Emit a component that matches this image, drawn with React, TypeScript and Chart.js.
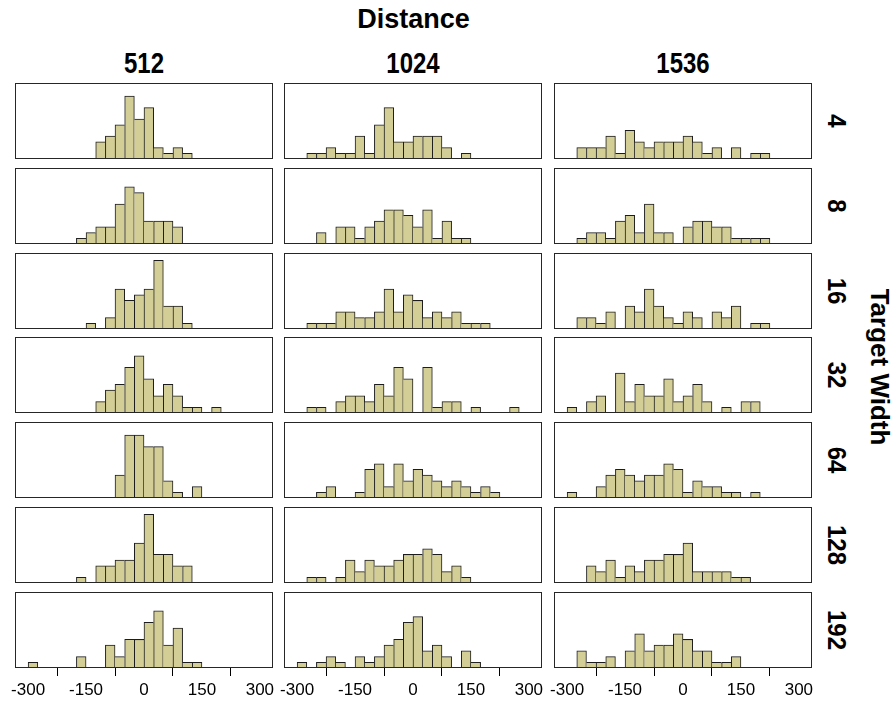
import React, { useEffect, useRef } from "react";
import { Chart, registerables } from "chart.js";

Chart.register(...registerables);

// ---- data ----
const distances = ["512", "1024", "1536"];
const targetWidths = ["4", "8", "16", "32", "64", "128", "192"];
const tickValues = [-300, -150, 0, 150, 300];
const BIN_START = -300;
const BIN_WIDTH = 25;
const Y_MAX = 13.3;

// counts per 25-unit bin, bins from -300 to +300 (24 bins)
const w4_d512 = [0, 0, 0, 0, 0, 0, 0, 3, 4, 6, 11, 7, 9, 2, 1, 2, 1, 0, 0, 0, 0, 0, 0, 0];
const w4_d1024 = [0, 1, 1, 2, 1, 1, 4, 1, 6, 9, 3, 3, 4, 4, 4, 2, 0, 1, 0, 0, 0, 0, 0, 0];
const w4_d1536 = [0, 2, 2, 2, 4, 1, 5, 3, 2, 3, 3, 3, 4, 3, 1, 2, 0, 2, 0, 1, 1, 0, 0, 0];

const w8_d512 = [0, 0, 0, 0, 0, 1, 2, 3, 3, 7, 10, 9, 4, 4, 4, 3, 0, 0, 0, 0, 0, 0, 0, 0];
const w8_d1024 = [0, 0, 2, 0, 3, 3, 1, 3, 4, 6, 6, 5, 3, 6, 1, 4, 1, 1, 0, 0, 0, 0, 0, 0];
const w8_d1536 = [0, 1, 2, 2, 1, 4, 5, 2, 7, 2, 2, 0, 3, 4, 4, 3, 3, 1, 1, 1, 1, 0, 0, 0];

const w16_d512 = [0, 0, 0, 0, 0, 0, 1, 0, 2, 7, 5, 6, 7, 12, 4, 4, 1, 0, 0, 0, 0, 0, 0, 0];
const w16_d1024 = [0, 1, 1, 1, 3, 3, 2, 2, 3, 7, 3, 6, 5, 2, 3, 2, 3, 1, 1, 1, 0, 0, 0, 0];
const w16_d1536 = [0, 2, 2, 1, 3, 0, 4, 3, 7, 4, 2, 1, 3, 2, 0, 3, 2, 4, 0, 1, 1, 0, 0, 0];

const w32_d512 = [0, 0, 0, 0, 0, 0, 0, 2, 4, 5, 8, 10, 6, 3, 5, 3, 1, 1, 0, 1, 0, 0, 0, 0];
const w32_d1024 = [0, 1, 1, 0, 2, 3, 3, 2, 5, 3, 8, 6, 0, 8, 1, 2, 2, 0, 1, 0, 0, 0, 1, 0];
const w32_d1536 = [1, 0, 2, 3, 0, 7, 2, 5, 3, 3, 6, 2, 3, 5, 2, 0, 1, 0, 2, 2, 0, 0, 0, 0];

const w64_d512 = [0, 0, 0, 0, 0, 0, 0, 0, 0, 4, 11, 11, 9, 9, 3, 1, 0, 2, 0, 0, 0, 0, 0, 0];
const w64_d1024 = [0, 0, 1, 2, 0, 0, 1, 5, 6, 2, 6, 3, 5, 4, 3, 2, 3, 2, 1, 2, 1, 0, 0, 0];
const w64_d1536 = [1, 0, 0, 2, 4, 5, 4, 3, 4, 4, 6, 5, 1, 3, 2, 2, 1, 1, 0, 1, 0, 0, 0, 0];

const w128_d512 = [0, 0, 0, 0, 0, 1, 0, 3, 3, 4, 4, 7, 12, 5, 5, 3, 3, 0, 0, 0, 0, 0, 0, 0];
const w128_d1024 = [0, 1, 1, 0, 1, 4, 2, 4, 3, 3, 4, 5, 5, 6, 5, 2, 3, 1, 0, 0, 0, 0, 0, 0];
const w128_d1536 = [0, 0, 3, 2, 4, 1, 3, 2, 4, 4, 5, 5, 7, 2, 2, 2, 2, 1, 1, 0, 0, 0, 0, 0];

const w192_d512 = [1, 0, 0, 0, 0, 2, 0, 0, 4, 2, 5, 5, 8, 10, 4, 7, 1, 1, 0, 0, 0, 0, 0, 0];
const w192_d1024 = [1, 0, 1, 2, 1, 0, 2, 1, 2, 4, 5, 8, 9, 3, 4, 2, 0, 3, 1, 0, 0, 0, 0, 0];
const w192_d1536 = [0, 3, 1, 1, 2, 0, 3, 6, 3, 4, 4, 6, 5, 3, 3, 1, 1, 2, 0, 0, 0, 0, 0, 0];

const panelCounts: number[][][] = [
  [w4_d512, w4_d1024, w4_d1536],
  [w8_d512, w8_d1024, w8_d1536],
  [w16_d512, w16_d1024, w16_d1536],
  [w32_d512, w32_d1024, w32_d1536],
  [w64_d512, w64_d1024, w64_d1536],
  [w128_d512, w128_d1024, w128_d1536],
  [w192_d512, w192_d1024, w192_d1536],
];

// ---- layout ----
const FONT = '"Liberation Sans", Arial, Helvetica, sans-serif';
const COL_LEFT = [15, 284, 554];
const ROW_TOP0 = 83;
const ROW_PITCH = 84.8;
const PANEL_W = 258;
const PANEL_H = 76;
const PADX = 22;
const PADY = 2;
const AXIS_H = 36;
const X_MIN = -334;
const X_MAX = 334;
const BAR_FILL = "#D3CD96";
const BAR_LINE = "#1c1c1c";
const BOX_LINE = "#262626";

const boxPlugin = {
  id: "panelBox",
  afterDatasetsDraw(chart: any) {
    const { ctx, chartArea: a } = chart;
    ctx.save();
    ctx.strokeStyle = BOX_LINE;
    ctx.lineWidth = 1;
    ctx.strokeRect(
      Math.round(a.left) + 0.5,
      Math.round(a.top) + 0.5,
      Math.round(a.right - a.left) - 1,
      Math.round(a.bottom - a.top) - 1
    );
    ctx.restore();
  },
};

function Panel({ counts, left, top, axis }: { counts: number[]; left: number; top: number; axis: boolean }) {
  const ref = useRef<HTMLCanvasElement>(null);
  const W = PANEL_W + 2 * PADX;
  const H = PANEL_H + PADY + (axis ? AXIS_H : PADY);
  useEffect(() => {
    const points = counts.map((c, i) => ({ x: BIN_START + BIN_WIDTH * (i + 0.5), y: c }));
    const xScale: any = {
      type: "linear",
      min: X_MIN,
      max: X_MAX,
      offset: false,
      display: axis,
      afterBuildTicks: (s: any) => {
        s.ticks = tickValues.map((v) => ({ value: v }));
      },
      grid: { display: true, drawOnChartArea: false, drawTicks: true, tickLength: 8, color: "#000", lineWidth: 1 },
      border: { display: false },
      ticks: {
        autoSkip: false,
        maxRotation: 0,
        padding: 4,
        color: "#000",
        font: { family: FONT, size: 17 },
        callback: (v: any) => String(v),
      },
    };
    if (axis) {
      xScale.afterFit = (s: any) => {
        s.height = AXIS_H;
      };
    }
    const chart = new Chart(ref.current as HTMLCanvasElement, {
      type: "bar",
      data: {
        datasets: [
          {
            data: points as any,
            backgroundColor: BAR_FILL,
            borderColor: BAR_LINE,
            borderWidth: (ctx: any) => {
              const i = ctx.dataIndex;
              const cur = counts[i] ?? 0;
              const prev = i > 0 ? counts[i - 1] : 0;
              const next = i < counts.length - 1 ? counts[i + 1] : 0;
              return { top: 1, bottom: 0, left: prev <= cur ? 1 : 0, right: next < cur ? 1 : 0 };
            },
            borderSkipped: "start",
            barPercentage: 1,
            categoryPercentage: 1,
          } as any,
        ],
      },
      options: {
        animation: false,
        responsive: false,
        events: [],
        layout: { padding: { left: PADX, right: PADX, top: PADY, bottom: axis ? 0 : PADY } },
        plugins: { legend: { display: false }, tooltip: { enabled: false } },
        scales: {
          x: xScale,
          y: { display: false, min: 0, max: Y_MAX },
        },
      } as any,
      plugins: [boxPlugin],
    });
    return () => chart.destroy();
  }, [counts, axis]);
  return (
    <canvas
      ref={ref}
      width={W}
      height={H}
      style={{ position: "absolute", left: left - PADX, top: top - PADY, width: W, height: H }}
    />
  );
}

export default function App() {
  const rowTop = (r: number) => Math.round(ROW_TOP0 + ROW_PITCH * r);
  const centerX = (COL_LEFT[0] + COL_LEFT[2] + PANEL_W) / 2;
  return (
    <div
      style={{
        position: "absolute",
        left: 0,
        top: 0,
        width: 891,
        height: 703,
        background: "#fff",
        fontFamily: FONT,
        color: "#000",
        overflow: "hidden",
      }}
    >
      <div
        style={{
          position: "absolute",
          left: centerX - 150,
          width: 300,
          top: 6,
          textAlign: "center",
          fontWeight: "bold",
          fontSize: 27,
          lineHeight: "27px",
        }}
      >
        Distance
      </div>
      {distances.map((d, c) => (
        <div
          key={d}
          style={{
            position: "absolute",
            left: COL_LEFT[c],
            width: PANEL_W,
            top: 53,
            textAlign: "center",
            fontWeight: "bold",
            fontSize: 24,
            lineHeight: "24px",
            transform: "scaleY(1.25)",
            transformOrigin: "50% 85%",
          }}
        >
          {d}
        </div>
      ))}
      {targetWidths.map((w, r) => (
        <div
          key={w}
          style={{
            position: "absolute",
            left: 837,
            top: rowTop(r) + PANEL_H / 2,
            transform: "translate(-50%, -50%) rotate(90deg) scaleY(1.1)",
            fontWeight: "bold",
            fontSize: 24,
            lineHeight: "24px",
            whiteSpace: "nowrap",
          }}
        >
          {w}
        </div>
      ))}
      <div
        style={{
          position: "absolute",
          left: 880,
          top: 367,
          transform: "translate(-50%, -50%) rotate(90deg)",
          fontWeight: "bold",
          fontSize: 26,
          lineHeight: "26px",
          whiteSpace: "nowrap",
        }}
      >
        Target Width
      </div>
      {panelCounts.map((row, r) =>
        row.map((counts, c) => (
          <Panel
            key={`${r}-${c}`}
            counts={counts}
            left={COL_LEFT[c]}
            top={rowTop(r)}
            axis={r === panelCounts.length - 1}
          />
        ))
      )}
    </div>
  );
}
